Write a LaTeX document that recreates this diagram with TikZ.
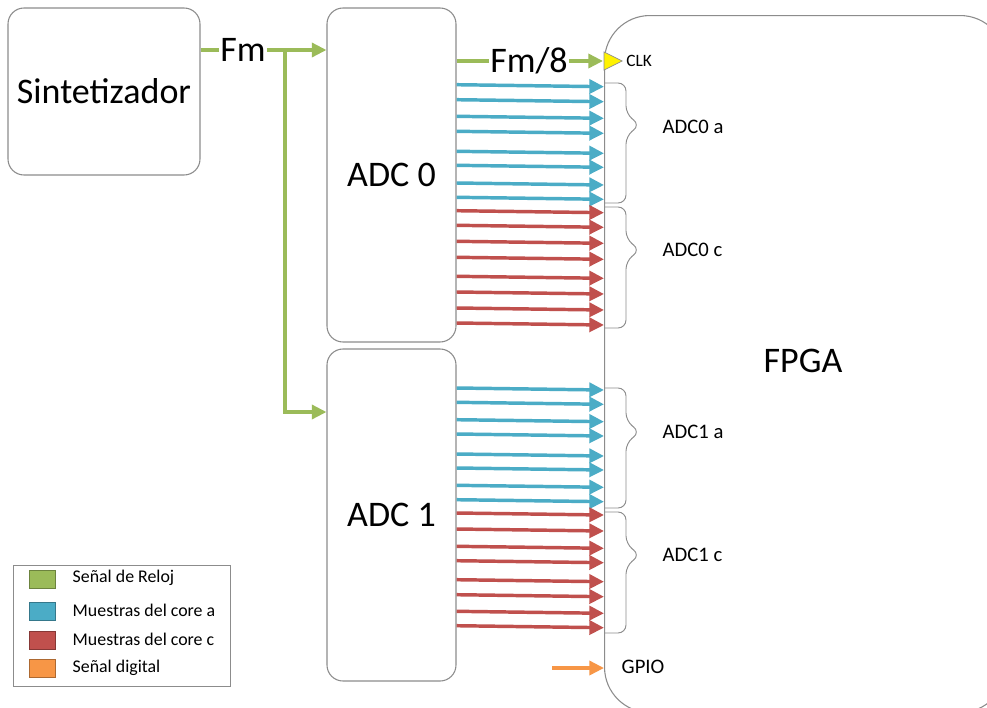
\documentclass[tikz,border=0pt]{standalone}
\usepackage{fontspec}
\setmainfont{Carlito}
\usetikzlibrary{arrows.meta}
\definecolor{cgreen}{HTML}{9BBB59}
\definecolor{cblue}{HTML}{4BACC6}
\definecolor{cred}{HTML}{C0504D}
\definecolor{corange}{HTML}{F79646}
\definecolor{cbox}{HTML}{8C8C8C}
\tikzset{
  blockbox/.style={draw=cbox, line width=0.8pt, rounded corners=12pt, fill=white, inner sep=0pt},
  sig/.style={line width=2.6pt, -{Triangle[length=11pt,width=10.5pt]}},
  clksig/.style={sig, cgreen},
  asig/.style={sig, cblue},
  csig/.style={sig, cred},
  dsig/.style={sig, corange},
  bracestyle/.style={draw=cbox, line width=0.7pt, rounded corners=6pt},
  bigtext/.style={font=\fontsize{27}{30}\selectfont},
  midtext/.style={font=\fontsize{15.5}{18}\selectfont, anchor=west},
  legtext/.style={font=\fontsize{13.4}{16}\selectfont, anchor=west},
  swatch/.style={minimum width=19.5pt, minimum height=13.5pt, inner sep=0pt, line width=0.6pt}
}
\newcommand\mybrace[3]{%
  \draw[bracestyle] (fpga.west |- 0,#1) -- (626,#1) -- (626,#2-11) -- (640,#2) -- (626,#2+11) -- (626,#3) -- (fpga.west |- 0,#3);}
\begin{document}
\begin{tikzpicture}[x=0.75pt,y=-0.75pt]
\useasboundingbox (0,0) rectangle (987,707);
\clip (0,0) rectangle (987,707);
\fill[white] (0,0) rectangle (987,707);

% blocks
\node[blockbox, minimum width=144pt, minimum height=125.25pt, bigtext] (sint) at (104,91.5) {Sintetizador};
\node[blockbox, minimum width=96.75pt, minimum height=250.5pt, bigtext] (adc0) at (391.5,175) {ADC 0};
\node[blockbox, minimum width=96.75pt, minimum height=249pt, bigtext] (adc1) at (391.5,515) {ADC 1};
\node[blockbox, rounded corners=34pt, minimum width=300.75pt, minimum height=522.75pt, anchor=north west] (fpga) at (604,15) {};
\node[bigtext] (fpgalabel) at (803,361) {FPGA};

% clock distribution
\coordinate (split) at (285,50);
\draw[clksig] (sint.east |- 0,50) -- (adc0.west |- 0,50);
\draw[clksig, line join=miter] (split) |- (adc1.west |- 0,412);
\node[fill=white, inner sep=1pt, bigtext] (fmlabel) at (243,50) {Fm};

% clock to FPGA
\draw[cbox, fill=yellow, line width=0.5pt] (fpga.west |- 0,52) -- (622,61) -- (fpga.west |- 0,70) -- cycle;
\coordinate (clkin) at (603,61);
\draw[clksig] (adc0.east |- 0,61) -- (clkin);
\node[fill=white, inner sep=1pt, bigtext] (fm8label) at (529,61) {Fm/8};
\node[font=\fontsize{13}{15}\selectfont, anchor=west, inner sep=0pt] (clklabel) at (626,61) {CLK};

% ADC0 samples
\foreach \y in {86.7,101.7,118.3,133.3,153.3,167.3,185,199.3}
  \draw[asig] (adc0.east |- 0,\y-2) -- (fpga.west |- 0,\y);
\foreach \y in {212.7,227.3,243.3,259.3,278.3,294,310,325}
  \draw[csig] (adc0.east |- 0,\y-2) -- (fpga.west |- 0,\y);
% ADC1 samples
\foreach \y in {390,404.3,421.7,436,456,470,487.3,501.7}
  \draw[asig] (adc1.east |- 0,\y-2) -- (fpga.west |- 0,\y);
\foreach \y in {515,531,548.3,562.7,581.7,596.7,613.3,627.7}
  \draw[csig] (adc1.east |- 0,\y-2) -- (fpga.west |- 0,\y);

% braces
\mybrace{83}{125}{203}
\mybrace{207}{250}{328}
\mybrace{388}{432}{508}
\mybrace{512}{555}{633}
\node[midtext] (l0a) at (658,127) {ADC0 a};
\node[midtext] (l0c) at (658,250) {ADC0 c};
\node[midtext] (l1a) at (658,432) {ADC1 a};
\node[midtext] (l1c) at (658,555) {ADC1 c};

% GPIO
\coordinate (gpiosrc) at (552,668);
\draw[dsig] (gpiosrc) -- (fpga.west |- 0,668);
\node[midtext] (gpiolabel) at (617,667) {GPIO};

% legend
\node[draw=cbox, line width=0.8pt, minimum width=162.75pt, minimum height=90.75pt, inner sep=0pt, anchor=north west] (legend) at (13,565) {};
\node[swatch, fill=cgreen, draw=cgreen!70!black] (sw1) at (42,579) {};
\node[swatch, fill=cblue, draw=cblue!70!black] (sw2) at (42,611.5) {};
\node[swatch, fill=cred, draw=cred!70!black] (sw3) at (42,640) {};
\node[swatch, fill=corange, draw=corange!70!black] (sw4) at (42,668.5) {};
\node[legtext] (lt1) at (68,578) {Señal de Reloj};
\node[legtext] (lt2) at (68,610.5) {Muestras del core a};
\node[legtext] (lt3) at (68,639) {Muestras del core c};
\node[legtext] (lt4) at (68,667.5) {Señal digital};
\end{tikzpicture}
\end{document}
